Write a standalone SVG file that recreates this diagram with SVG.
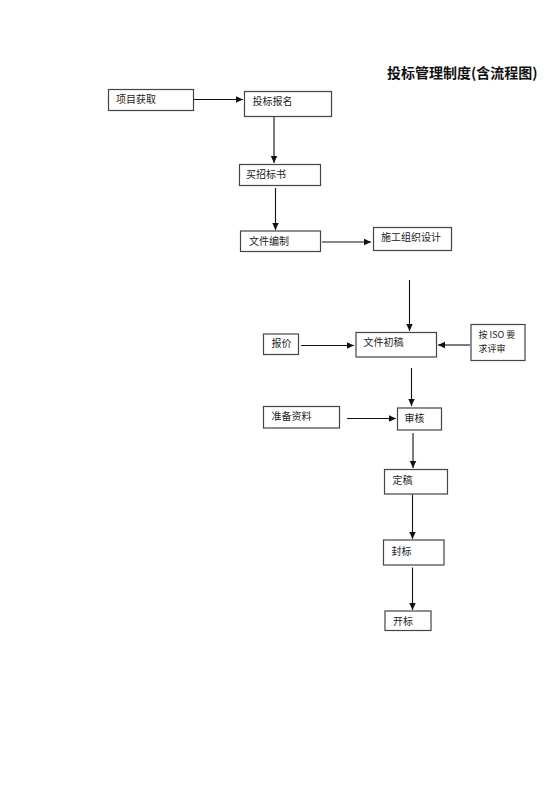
<svg xmlns="http://www.w3.org/2000/svg" width="560" height="792" viewBox="0 0 560 792">
<defs>
<marker id="ah" markerWidth="8" markerHeight="8" refX="7" refY="4" orient="auto" markerUnits="userSpaceOnUse">
<path d="M0,0.8 L7,4 L0,7.2 Z" fill="#111"/>
</marker>
<style>
.box{fill:#fff;stroke:#444;stroke-width:1.2}
.t{font-family:"Noto Sans CJK SC","Noto Sans",sans-serif;font-size:10px;fill:#222}
.s{font-size:9px}
.title{font-family:"Noto Sans CJK SC","Noto Sans",sans-serif;font-size:14px;font-weight:bold;fill:#111}
.c{stroke:#111;stroke-width:1.1;fill:none;marker-end:url(#ah)}
</style>
</defs>
<rect width="560" height="792" fill="#fff"/>
<text class="title" x="387" y="78">投标管理制度(含流程图)</text>
<g id="connectors">
<line class="c" x1="193" y1="99.5" x2="243" y2="99.5"/>
<line class="c" x1="274" y1="117" x2="274" y2="163"/>
<line class="c" x1="275.5" y1="188" x2="275.5" y2="230"/>
<line class="c" x1="322" y1="242" x2="371" y2="242"/>
<line class="c" x1="409.5" y1="280" x2="409.5" y2="331"/>
<line class="c" x1="301" y1="345.5" x2="354" y2="345.5"/>
<line class="c" x1="470" y1="345" x2="438" y2="345"/>
<line class="c" x1="411.5" y1="368" x2="411.5" y2="406"/>
<line class="c" x1="347" y1="418.5" x2="396" y2="418.5"/>
<line class="c" x1="413" y1="433" x2="413" y2="468"/>
<line class="c" x1="412.5" y1="494.5" x2="412.5" y2="539"/>
<line class="c" x1="412.5" y1="567.5" x2="412.5" y2="610"/>
</g>
<g id="n1"><rect class="box" x="108.5" y="89.5" width="85" height="21"/><text class="t" x="116" y="103">项目获取</text></g>
<g id="n2"><rect class="box" x="244.5" y="91.5" width="87" height="25"/><text class="t" x="252.5" y="105">投标报名</text></g>
<g id="n3"><rect class="box" x="239.5" y="164.5" width="81" height="21"/><text class="t" x="246" y="178">买招标书</text></g>
<g id="n4"><rect class="box" x="240.5" y="231" width="80" height="20.5"/><text class="t" x="249" y="244.5">文件编制</text></g>
<g id="n5"><rect class="box" x="373.5" y="227.5" width="78" height="23"/><text class="t" x="381" y="241">施工组织设计</text></g>
<g id="n6"><rect class="box" x="263.5" y="334" width="35" height="20.5"/><text class="t" x="271.5" y="346.5">报价</text></g>
<g id="n7"><rect class="box" x="356" y="332.5" width="80.5" height="24.5"/><text class="t" x="363.5" y="346">文件初稿</text></g>
<g id="n8"><rect class="box" x="471" y="324.5" width="54" height="36"/><text class="t s" x="478.5" y="338">按 ISO 要</text><text class="t s" x="478.5" y="351.5">求评审</text></g>
<g id="n9"><rect class="box" x="263.5" y="406.5" width="76" height="21.5"/><text class="t" x="271.5" y="420">准备资料</text></g>
<g id="n10"><rect class="box" x="397.5" y="408" width="44" height="22"/><text class="t" x="404.5" y="421.5">审核</text></g>
<g id="n11"><rect class="box" x="384.5" y="469.5" width="63" height="24.5"/><text class="t" x="392.5" y="484">定稿</text></g>
<g id="n12"><rect class="box" x="383.5" y="540" width="60.5" height="25"/><text class="t" x="391.5" y="555">封标</text></g>
<g id="n13"><rect class="box" x="385" y="611" width="46" height="19.5"/><text class="t" x="393" y="625">开标</text></g>
</svg>
